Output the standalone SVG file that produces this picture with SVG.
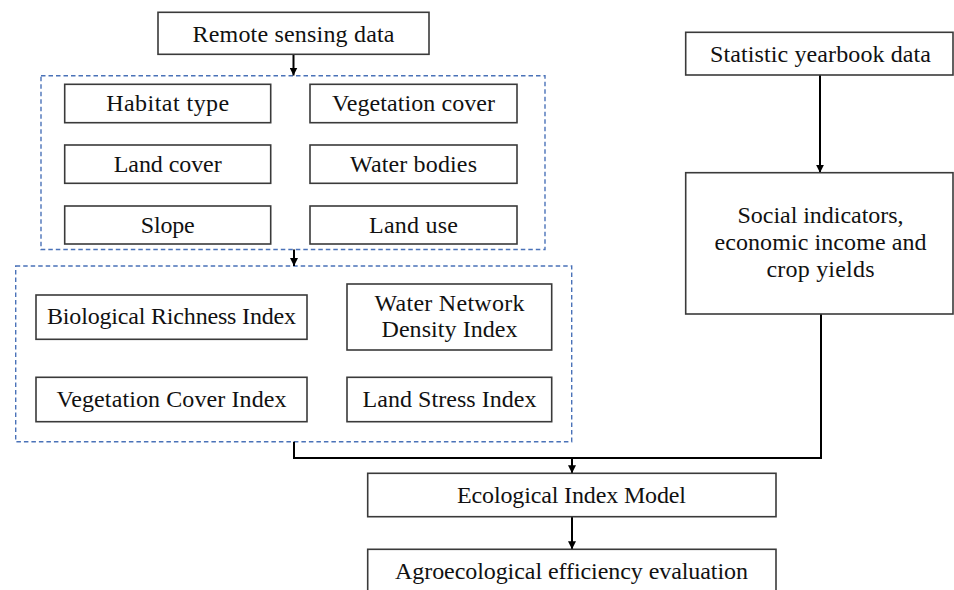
<svg xmlns="http://www.w3.org/2000/svg" width="954" height="590" viewBox="0 0 954 590">
<defs>
<marker id="arr" viewBox="0 0 10 10" refX="10" refY="5" markerWidth="4" markerHeight="4" orient="auto" markerUnits="strokeWidth">
<path d="M0,0 L10,5 L0,10 z" fill="#000"/>
</marker>
<style>
.box{fill:#fff;stroke:#3a3a3a;stroke-width:1.6}
.grp{fill:none;stroke:#4a72b8;stroke-width:1.4;stroke-dasharray:4.5,3}
.t{font-family:"Liberation Serif","Times New Roman",serif;font-size:24px;fill:#111;text-anchor:middle}
.c{fill:none;stroke:#000;stroke-width:2}
</style>
</defs>
<rect width="954" height="590" fill="#fff"/>
<g id="group1"><rect class="grp" x="41" y="75.7" width="504" height="173.8"/></g>
<g id="group2"><rect class="grp" x="15.7" y="266" width="556" height="175.7"/></g>
<g id="connectors">
<line class="c" x1="293.5" y1="54.5" x2="293.5" y2="75.5" marker-end="url(#arr)"/>
<line class="c" x1="294" y1="249.5" x2="294" y2="266" marker-end="url(#arr)"/>
<polyline class="c" points="294,441.7 294,458 821,458 821,314"/>
<line class="c" x1="572" y1="458" x2="572" y2="473.3" marker-end="url(#arr)"/>
<line class="c" x1="572" y1="516.7" x2="572" y2="549.3" marker-end="url(#arr)"/>
<line class="c" x1="820" y1="75" x2="820" y2="172.7" marker-end="url(#arr)"/>
</g>
<g id="remote"><rect class="box" x="158" y="12.3" width="271" height="42"/><text class="t" x="293.5" y="41.5" textLength="202">Remote sensing data</text></g>
<g id="habitat"><rect class="box" x="64.7" y="84.3" width="206" height="38.4"/><text class="t" x="167.7" y="110.5" textLength="123">Habitat type</text></g>
<g id="vegcover"><rect class="box" x="310" y="84.3" width="207" height="38.4"/><text class="t" x="413.5" y="110.5" textLength="163">Vegetation cover</text></g>
<g id="landcover"><rect class="box" x="64.7" y="145" width="206" height="38.3"/><text class="t" x="167.7" y="171.5" textLength="108">Land cover</text></g>
<g id="water"><rect class="box" x="310" y="145" width="207" height="38.3"/><text class="t" x="413.5" y="171.5" textLength="127">Water bodies</text></g>
<g id="slope"><rect class="box" x="64.7" y="206" width="206" height="38"/><text class="t" x="167.7" y="232.5" textLength="54">Slope</text></g>
<g id="landuse"><rect class="box" x="310" y="206" width="207" height="38"/><text class="t" x="413.5" y="232.5" textLength="89">Land use</text></g>
<g id="bio"><rect class="box" x="36" y="295" width="271" height="44.3"/><text class="t" x="171.5" y="324" textLength="249">Biological Richness Index</text></g>
<g id="wnd"><rect class="box" x="347" y="284" width="204.7" height="66"/><text class="t" x="449.5" y="310.5" textLength="150">Water Network</text><text class="t" x="449.5" y="336.5" textLength="136">Density Index</text></g>
<g id="vci"><rect class="box" x="36" y="377.3" width="271" height="44.4"/><text class="t" x="171.5" y="406.5" textLength="230">Vegetation Cover Index</text></g>
<g id="lsi"><rect class="box" x="347" y="377.3" width="204.7" height="44.4"/><text class="t" x="449.5" y="406.5" textLength="174">Land Stress Index</text></g>
<g id="eco"><rect class="box" x="367.7" y="473.3" width="408.3" height="43.4"/><text class="t" x="571.5" y="502.5" textLength="229">Ecological Index Model</text></g>
<g id="agro"><rect class="box" x="367.7" y="549.3" width="408.3" height="60"/><text class="t" x="571.5" y="579" textLength="353">Agroecological efficiency evaluation</text></g>
<g id="stat"><rect class="box" x="685.7" y="32.3" width="267.3" height="42.7"/><text class="t" x="820.5" y="61.5" textLength="221">Statistic yearbook data</text></g>
<g id="social"><rect class="box" x="685.7" y="172.7" width="267.3" height="141.3"/><text class="t" x="820.5" y="223" textLength="166">Social indicators,</text><text class="t" x="820.5" y="250" textLength="212">economic income and</text><text class="t" x="820.5" y="277" textLength="108">crop yields</text></g>
</svg>
